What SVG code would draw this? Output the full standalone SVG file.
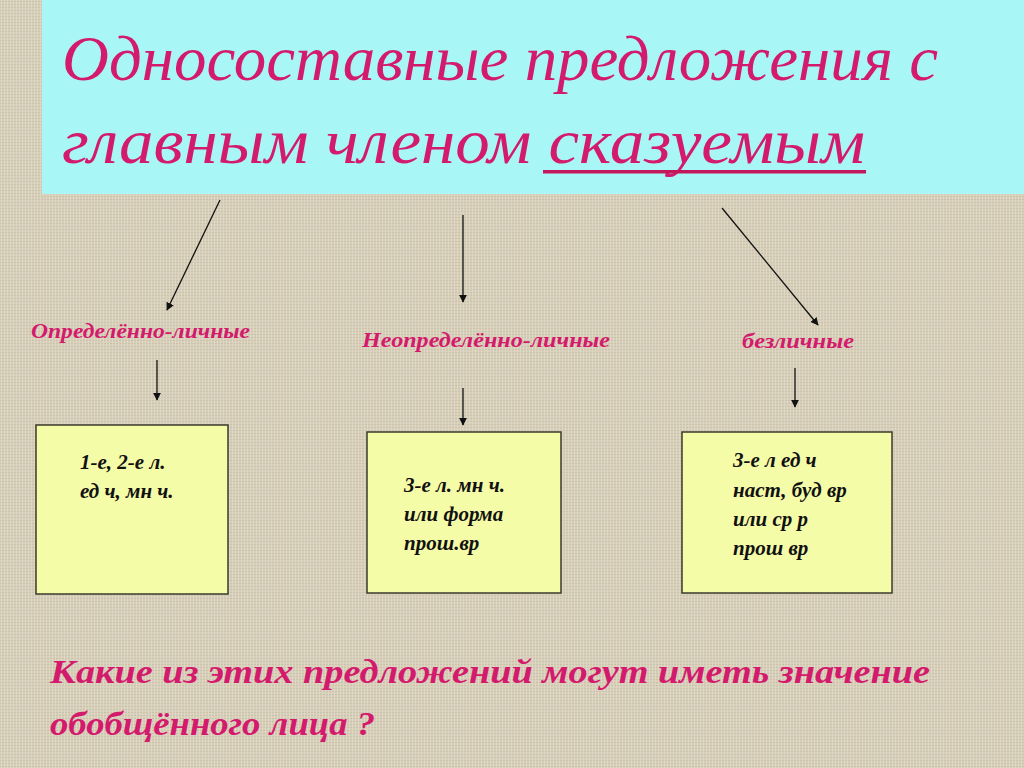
<svg xmlns="http://www.w3.org/2000/svg" width="1024" height="768" viewBox="0 0 1024 768">
<style>
.pink{fill:#d41a6c;font-family:"Liberation Serif","DejaVu Serif",serif;font-style:italic}
.lbl{font-size:21px;font-weight:bold}
.box{fill:#f5fca8;stroke:#3a3a2a;stroke-width:1.5}
.bt{fill:#111;font-family:"Liberation Serif","DejaVu Serif",serif;font-style:italic;font-weight:bold;font-size:21px}
.con line{stroke:#111;stroke-width:1.3;marker-end:url(#ah)}
</style>
<defs>
<marker id="ah" viewBox="0 0 10 10" refX="9" refY="5" markerWidth="8" markerHeight="8" orient="auto" markerUnits="userSpaceOnUse">
<path d="M0,0 L10,5 L0,10 z" fill="#111"/>
</marker>
<pattern id="linen" width="6" height="6" patternUnits="userSpaceOnUse">
<rect width="6" height="6" fill="#d7cfba"/>
<path d="M0,1.5 H6 M0,4.5 H6" stroke="#cbc2ab" stroke-width="1"/>
<path d="M1.5,0 V6 M4.5,0 V6" stroke="#e0d9c6" stroke-width="0.8"/>
</pattern>
</defs>
<rect width="1024" height="768" fill="url(#linen)"/>
<g id="title">
<rect x="42" y="0" width="982" height="194" fill="#a8f7f6"/>
<text class="pink" x="62" y="80" font-size="64" textLength="876" lengthAdjust="spacingAndGlyphs">Односоставные предложения с</text>
<text class="pink" x="62" y="163" font-size="64" textLength="803" lengthAdjust="spacingAndGlyphs">главным членом сказуемым</text>
<rect x="543" y="170" width="323" height="3.5" fill="#c2185b"/>
</g>
<g class="con" id="connectors">
<line x1="220" y1="200" x2="167" y2="310"/>
<line x1="463" y1="215" x2="463" y2="302"/>
<line x1="722" y1="208" x2="818" y2="325"/>
<line x1="157" y1="360" x2="157" y2="400"/>
<line x1="463" y1="388" x2="463" y2="425"/>
<line x1="795" y1="368" x2="795" y2="407"/>
</g>
<g id="label1"><text class="pink lbl" x="31" y="338" textLength="219" lengthAdjust="spacingAndGlyphs">Определённо-личные</text></g>
<g id="label2"><text class="pink lbl" x="362" y="347" textLength="248" lengthAdjust="spacingAndGlyphs">Неопределённо-личные</text></g>
<g id="label3"><text class="pink lbl" x="742" y="348" textLength="112" lengthAdjust="spacingAndGlyphs">безличные</text></g>
<g id="box1">
<rect class="box" x="36" y="425" width="192" height="169"/>
<text class="bt" x="80" y="469">1-е, 2-е л.</text>
<text class="bt" x="80" y="498">ед ч, мн ч.</text>
</g>
<g id="box2">
<rect class="box" x="367" y="432" width="194" height="161"/>
<text class="bt" x="404" y="492">3-е л. мн ч.</text>
<text class="bt" x="404" y="521">или форма</text>
<text class="bt" x="404" y="550">прош.вр</text>
</g>
<g id="box3">
<rect class="box" x="682" y="432" width="210" height="161"/>
<text class="bt" x="733" y="467">3-е л ед ч</text>
<text class="bt" x="733" y="497">наст, буд вр</text>
<text class="bt" x="733" y="526">или ср р</text>
<text class="bt" x="733" y="555">прош вр</text>
</g>
<g id="question">
<text class="pink" x="50" y="683" font-size="34" font-weight="bold" textLength="880" lengthAdjust="spacingAndGlyphs">Какие из этих предложений могут иметь значение</text>
<text class="pink" x="50" y="735" font-size="34" font-weight="bold" textLength="325" lengthAdjust="spacingAndGlyphs">обобщённого лица ?</text>
</g>
</svg>
